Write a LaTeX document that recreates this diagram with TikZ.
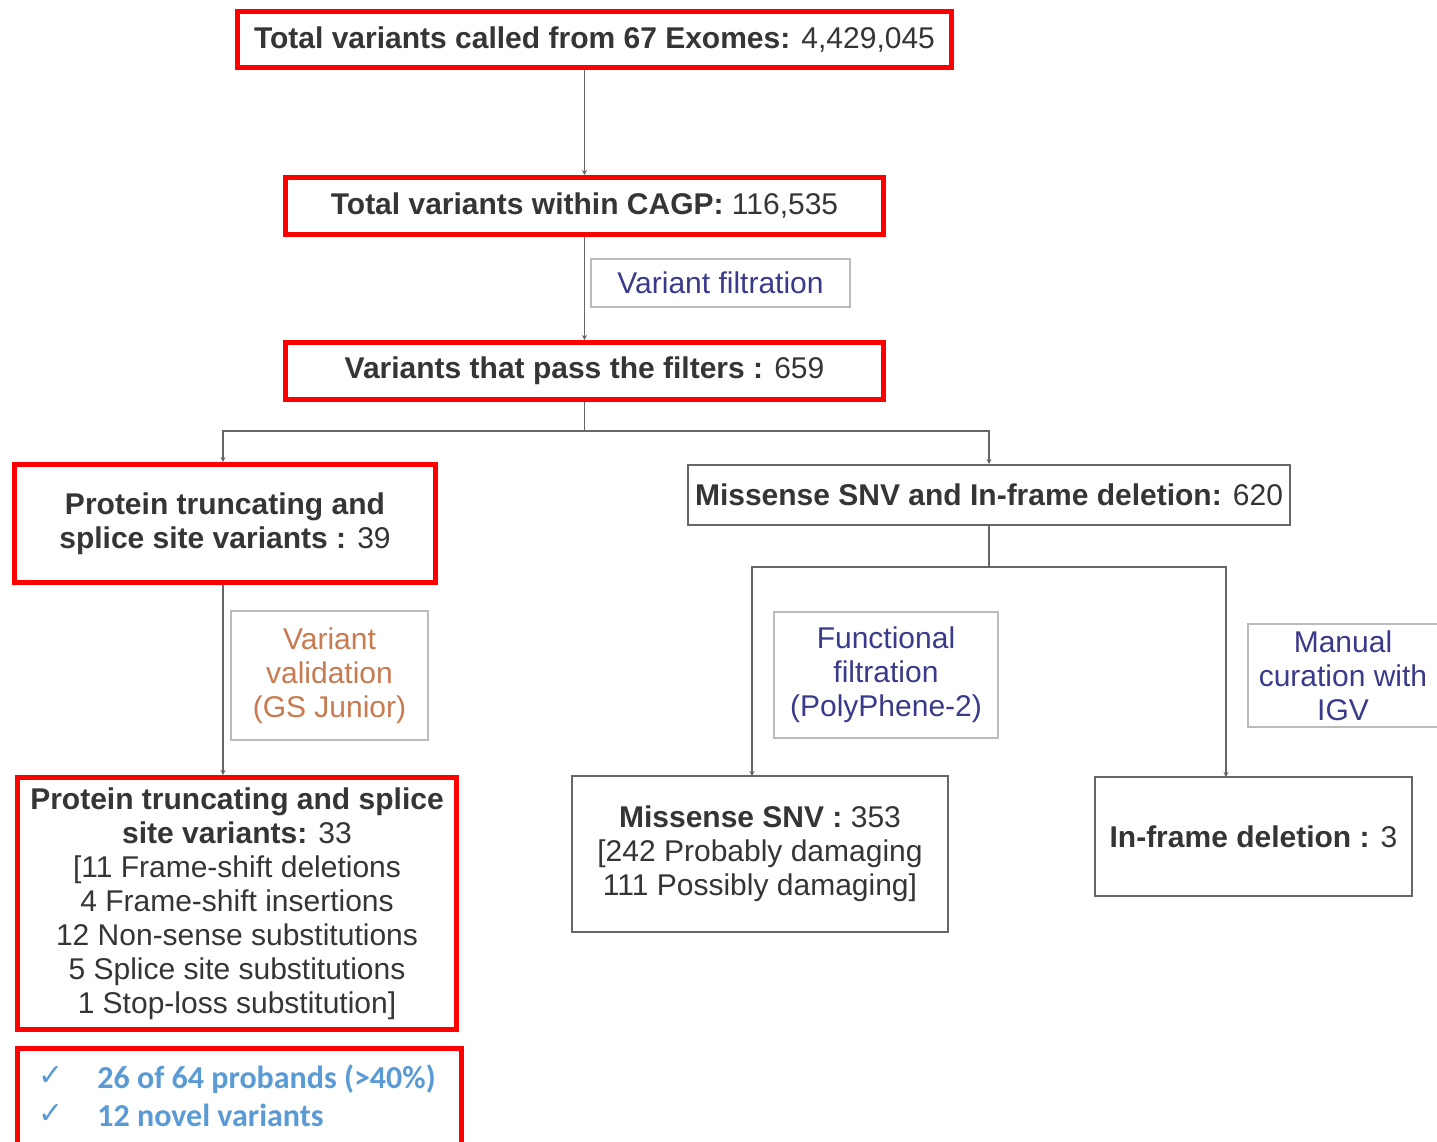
\documentclass[tikz,border=0pt]{standalone}
\usepackage{fontspec}
\setmainfont{Liberation Sans}
\newfontfamily\calib{Carlito}
\newfontfamily\djv{DejaVu Sans}
\usetikzlibrary{arrows.meta}
\definecolor{redbox}{HTML}{FF0000}
\definecolor{txt}{HTML}{353535}
\definecolor{navy}{HTML}{3A3A8C}
\definecolor{orng}{HTML}{C87A50}
\definecolor{bluet}{HTML}{5B9BD5}
\definecolor{conn}{HTML}{666666}
\definecolor{lbl}{HTML}{BBBBBB}
\tikzset{
  base/.style={rectangle, inner sep=0pt, align=center, text=txt,
    font=\fontsize{15pt}{17pt}\selectfont},
  redbox/.style={base, draw=redbox, line width=2.5pt},
  graybox/.style={base, draw=conn, line width=1pt},
  lblbox/.style={base, draw=lbl, line width=0.6pt},
  conline/.style={draw=conn, line width=0.75pt},
  tip/.style={conline, -{Stealth[length=2.5pt,width=2.5pt]}}
}
\newcommand{\chk}{\makebox[29.5pt][l]{\raisebox{1.5pt}{\djv\mdseries\fontsize{15pt}{15pt}\selectfont ✓}}}
\begin{document}
\begin{tikzpicture}[x=0.5pt,y=-0.5pt]
\useasboundingbox (0,0) rectangle (1437,1142);
\fill[white] (0,0) rectangle (1437,1142);

\node[redbox, minimum width=357pt, minimum height=28pt] (n1) at (594.5,39.5)
  {\textbf{Total variants called from 67 Exomes:} 4,429,045};
\node[redbox, minimum width=299pt, minimum height=28.5pt] (n2) at (584.5,206)
  {\textbf{Total variants within CAGP:} 116,535};
\node[redbox, minimum width=299pt, minimum height=28.5pt] (n3) at (584.5,371)
  {\textbf{Variants that pass the filters :} 659};
\node[redbox, minimum width=210.5pt, minimum height=59pt] (n4) at (225,523.5)
  {\textbf{Protein truncating and}\\\textbf{splice site variants :} 39};
\node[graybox, minimum width=301pt, minimum height=30pt] (n5) at (989,495)
  {\textbf{Missense SNV and In-frame deletion:} 620};
\node[redbox, minimum width=219.5pt, minimum height=126pt] (n6) at (237,903.5)
  {\textbf{Protein truncating and splice}\\\textbf{site variants:} 33\\
   {[}11 Frame-shift deletions\\4 Frame-shift insertions\\12 Non-sense substitutions\\
   5 Splice site substitutions\\1 Stop-loss substitution{]}};
\node[redbox, minimum width=222pt, minimum height=52.5pt] (n7) at (239.5,1101) {};
\node[anchor=west, inner sep=0pt, align=left, text=bluet,
  font=\calib\bfseries\fontsize{16pt}{19pt}\selectfont] (t7) at (38,1096)
  {\chk 26 of 64 probands (>40\%)\\
   \chk 12 novel variants};
\node[graybox, minimum width=188pt, minimum height=78pt] (n8) at (760,854)
  {\textbf{Missense SNV :} 353\\{[}242 Probably damaging\\111 Possibly damaging{]}};
\node[graybox, minimum width=158.5pt, minimum height=59.5pt] (n9) at (1253.5,836.5)
  {\textbf{In-frame deletion :} 3};

\node[lblbox, text=navy, minimum width=129.5pt, minimum height=24pt] (l1) at (720.5,283)
  {Variant filtration};
\node[lblbox, text=orng, minimum width=98.5pt, minimum height=64.5pt] (l2) at (329.5,675.5)
  {Variant\\validation\\(GS Junior)};
\node[lblbox, text=navy, minimum width=112pt, minimum height=63pt] (l3) at (886,675)
  {Functional\\filtration\\(PolyPhene-2)};
\node[lblbox, text=navy, minimum width=95pt, minimum height=51.5pt] (l4) at (1343,675.5)
  {Manual\\curation with\\IGV};

\coordinate (s1) at (584.5,431);
\coordinate (s2) at (989,567);
\coordinate (a8) at (752,776);
\coordinate (a9) at (1226,777);

\draw[tip] (n2.north |- n1.south) -- (n2.north);
\draw[tip] (n2.south) -- (n3.north);
\draw[conline] (n3.south) -- (s1);
\draw[tip] (s1) -| ([xshift=-1pt]n4.north);
\draw[tip] (s1) -| (n5.north);
\draw[tip] ([xshift=-1pt]n4.south) -- ([xshift=-1pt]n4.south |- n6.north);
\draw[conline] (n5.south) -- (s2);
\draw[tip] (s2) -| (a8);
\draw[tip] (s2) -| (a9);
\end{tikzpicture}
\end{document}
